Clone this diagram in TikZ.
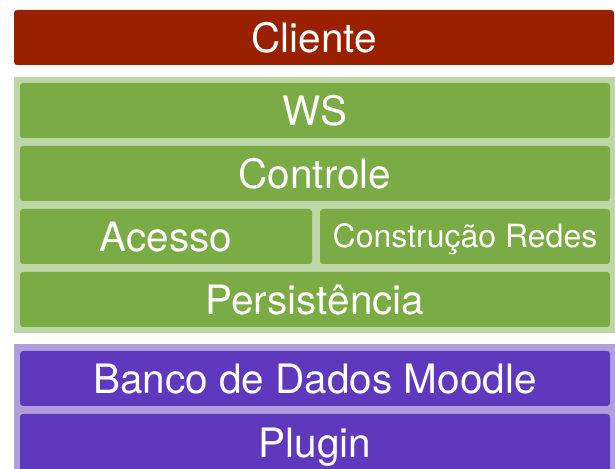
\documentclass[tikz,border=0pt]{standalone}
\usepackage{fontspec}
\setmainfont{TeX Gyre Heros}
\definecolor{cred}{HTML}{992100}
\definecolor{cgreen}{HTML}{7AAB44}
\definecolor{cgreenlt}{HTML}{BED7A7}
\definecolor{cpurple}{HTML}{5E39BD}
\definecolor{cpurplelt}{HTML}{B19FDC}
\tikzset{
  box/.style={rectangle, rounded corners=3pt, inner sep=0pt, text=white,
    font=\fontsize{40.5}{40.5}\selectfont, text height=29.2pt, text depth=0pt},
  smallbox/.style={box, font=\fontsize{32}{32}\selectfont, text height=23pt},
  panel/.style={rectangle, inner sep=0pt}
}
\begin{document}
\begin{tikzpicture}[x=1pt,y=1pt]
\useasboundingbox (0,0) rectangle (615,468);
\clip (0,0) rectangle (615,468);
\fill[white] (0,0) rectangle (615,468);
% Cliente
\node[box, fill=cred, minimum width=600pt, minimum height=55pt] (cliente) at (314,{468-37.5}) {Cliente};
% green panel
\node[panel, fill=cgreenlt, minimum width=601pt, minimum height=256pt] (gpanel) at (314.5,{468-205}) {};
\node[box, fill=cgreen, minimum width=590pt, minimum height=55pt] (ws) at (315,{468-110.5}) {WS};
\node[box, fill=cgreen, minimum width=590pt, minimum height=55pt] (controle) at (315,{468-173.5}) {Controle};
\node[box, fill=cgreen, minimum width=292pt, minimum height=55pt] (acesso) at (166,{468-236.5}) {Acesso};
\node[smallbox, fill=cgreen, minimum width=290pt, minimum height=55pt] (construcao) at (465,{468-236.5}) {Construção Redes};
\node[box, fill=cgreen, minimum width=590pt, minimum height=55pt] (persist) at (315,{468-299.5}) {Persistência};
% purple panel
\node[panel, fill=cpurplelt, minimum width=601pt, minimum height=134pt] (ppanel) at (314.5,{468-411}) {};
\node[box, fill=cpurple, minimum width=590pt, minimum height=55pt] (banco) at (315,{468-378.5}) {Banco de Dados Moodle};
\node[box, fill=cpurple, minimum width=590pt, minimum height=58pt] (plugin) at (315,{468-443}) {Plugin};
\end{tikzpicture}
\end{document}
